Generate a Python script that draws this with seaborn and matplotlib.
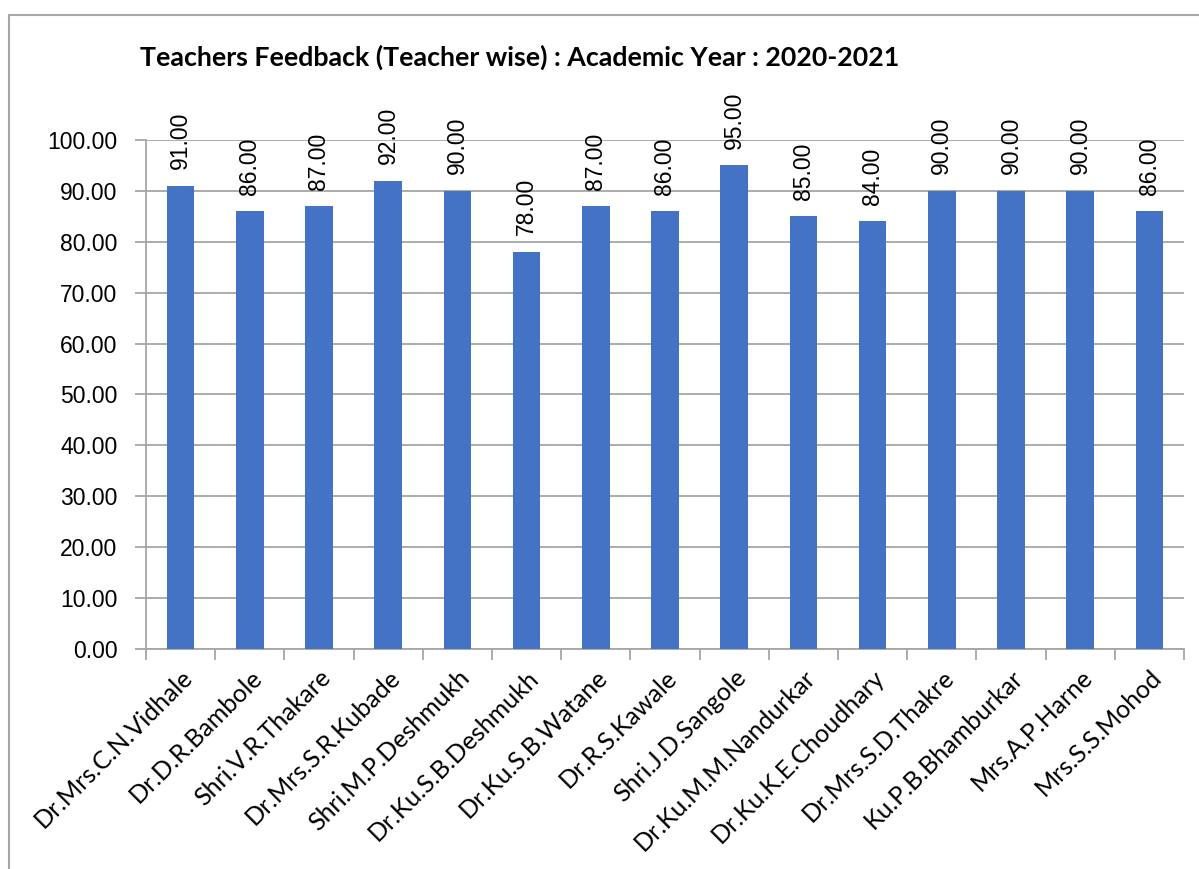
import matplotlib
matplotlib.use("Agg")
import matplotlib.pyplot as plt
from matplotlib.lines import Line2D
from matplotlib.ticker import FixedLocator
import seaborn as sns
import pandas as pd
import numpy as np

teachers = [
    "Dr.Mrs.C.N.Vidhale", "Dr.D.R.Bambole", "Shri.V.R.Thakare", "Dr.Mrs.S.R.Kubade",
    "Shri.M.P.Deshmukh", "Dr.Ku.S.B.Deshmukh", "Dr.Ku.S.B.Watane", "Dr.R.S.Kawale",
    "Shri.J.D.Sangole", "Dr.Ku.M.M.Nandurkar", "Dr.Ku.K.E.Choudhary", "Dr.Mrs.S.D.Thakre",
    "Ku.P.B.Bhamburkar", "Mrs.A.P.Harne", "Mrs.S.S.Mohod",
]
scores = [91, 86, 87, 92, 90, 78, 87, 86, 95, 85, 84, 90, 90, 90, 86]
y_ticks = [0, 10, 20, 30, 40, 50, 60, 70, 80, 90, 100]
title = "Teachers Feedback (Teacher wise) : Academic Year : 2020-2021"

df = pd.DataFrame({"teacher": teachers, "score": scores})

sns.set_theme(style="white")
plt.rcParams["font.family"] = ["Liberation Sans", "DejaVu Sans"]
plt.rcParams["text.color"] = "black"
plt.rcParams["xtick.color"] = "black"
plt.rcParams["ytick.color"] = "black"

W, H = 1199, 869
fig = plt.figure(figsize=(W / 100, H / 100), dpi=100)
ax = fig.add_axes([146 / W, 1 - 649 / H, (1184 - 146) / W, (649 - 140) / H])

bar_color = "#4472C4"
grid_color = "#A6A6A6"
label_font = ["Lato", "DejaVu Sans"]

sns.barplot(data=df, x="teacher", y="score", color=bar_color, saturation=1,
            width=0.4, ax=ax, zorder=3, linewidth=0)

ax.set_xlim(-0.5, len(teachers) - 0.5)
ax.set_ylim(0, 100)
ax.set_yticks(y_ticks)
ax.set_yticklabels([f"{v:.2f}" for v in y_ticks], fontsize=16.5, color="black")
ax.yaxis.grid(True, color=grid_color, linewidth=1.3, zorder=0)
ax.set_axisbelow(True)
ax.set_xlabel("")
ax.set_ylabel("")

# category labels centred on bars, tick marks on category boundaries
ax.set_xticks(range(len(teachers)))
ax.set_xticklabels(teachers, rotation=45, ha="right", rotation_mode="anchor",
                   fontsize=18, family=label_font, color="black")
ax.tick_params(axis="x", which="major", length=0, pad=12, labelcolor="black")
ax.xaxis.set_minor_locator(FixedLocator(np.arange(-0.5, len(teachers), 1.0)))
ax.tick_params(axis="x", which="minor", length=8, width=1.3, color=grid_color, bottom=True)
ax.tick_params(axis="y", length=8, width=1.3, color=grid_color, left=True, pad=12.5,
               labelcolor="black")

for side in ["top", "right"]:
    ax.spines[side].set_visible(False)
for side in ["left", "bottom"]:
    ax.spines[side].set_color(grid_color)
    ax.spines[side].set_linewidth(1.3)

# value labels above each bar
for i, v in enumerate(scores):
    ax.annotate(f"{v:.2f}", xy=(i, v), xytext=(0, 12), textcoords="offset points",
                rotation=90, ha="center", va="bottom", fontsize=16.5, color="black")

fig.text(140 / W, 1 - 57 / H, title, fontsize=19.3, fontweight="bold",
         family=label_font, ha="left", va="center", color="black")

# outer chart frame
frame_color = "#A6A6A6"
fig.add_artist(Line2D([9 / W, 9 / W], [0, 1 - 15 / H], transform=fig.transFigure,
                      color=frame_color, linewidth=1.5))
fig.add_artist(Line2D([9 / W, 1], [1 - 15 / H, 1 - 15 / H], transform=fig.transFigure,
                      color=frame_color, linewidth=1.5))

fig.savefig("out.png", dpi=100, facecolor="white")
